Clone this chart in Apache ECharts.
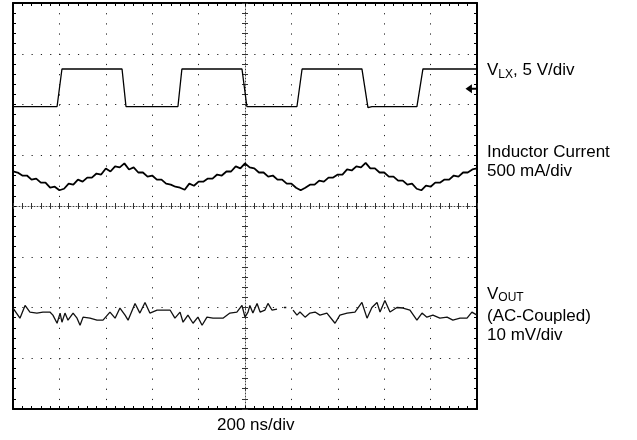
<!DOCTYPE html>
<html>
<head>
<meta charset="utf-8">
<script src="https://cdn.jsdelivr.net/npm/echarts@6/dist/echarts.min.js"></script>
<style>
html,body{margin:0;padding:0;background:#fff;}
#c{width:637px;height:440px;}
</style>
</head>
<body>
<div id="c"></div>
<script>
// Time in ns (10 div x 200 ns), trace values in screen divisions (0..8 from bottom)
const xTicksNs = { min: 0, max: 2000, step: 200 };
const yDivs = { min: 0, max: 8, step: 1 };

const vlxTime = [0,190,211,470,487,711,728,987,1008,1224,1246,1504,1530,1547,1741,1767,2000];
const vlxDiv  = [5.96,5.96,6.70,6.70,5.96,5.96,6.70,6.70,5.96,5.96,6.70,6.70,5.94,5.96,5.96,6.70,6.70];

const ilTime = [0,20,40,60,80,100,120,140,160,180,
  200,220,240,260,280,300,320,340,360,380,
  400,420,440,460,480,500,520,540,560,580,
  600,620,640,660,680,700,720,740,760,780,
  800,820,840,860,880,900,920,940,960,980,
  1000,1020,1040,1060,1080,1100,1120,1140,1160,1180,
  1200,1220,1240,1260,1280,1300,1320,1340,1360,1380,
  1400,1420,1440,1460,1480,1500,1520,1540,1560,1580,
  1600,1620,1640,1660,1680,1700,1720,1740,1760,1780,
  1800,1820,1840,1860,1880,1900,1920,1940,1960,1980,
  2000];
const ilDiv = [4.68,4.66,4.60,4.60,4.52,4.54,4.46,4.46,4.36,4.38,
  4.31,4.34,4.44,4.42,4.52,4.48,4.56,4.56,4.64,4.62,
  4.74,4.68,4.78,4.76,4.84,4.72,4.76,4.66,4.66,4.58,
  4.60,4.52,4.52,4.44,4.42,4.38,4.36,4.32,4.44,4.40,
  4.48,4.48,4.54,4.54,4.62,4.60,4.68,4.68,4.78,4.74,
  4.84,4.76,4.74,4.66,4.66,4.58,4.60,4.52,4.52,4.44,
  4.44,4.36,4.31,4.36,4.42,4.42,4.50,4.48,4.56,4.56,
  4.62,4.62,4.72,4.70,4.78,4.76,4.85,4.74,4.74,4.66,
  4.66,4.58,4.58,4.50,4.50,4.42,4.44,4.34,4.31,4.40,
  4.38,4.46,4.46,4.52,4.52,4.60,4.58,4.66,4.66,4.72,
  4.74];

const voTime = [0,30,52,73,103,129,159,172,190,203,
  211,224,237,259,276,289,302,332,362,388,
  418,440,461,483,496,526,547,569,590,621,
  647,677,698,720,733,754,776,797,815,836,
  862,905,935,965,987,1000,1013,1021,1034,1052,
  1065,1086,1099,1116,1138,1150,1168,1178,1190,1207,
  1224,1237,1259,1280,1302,1323,1353,1388,1409,1440,
  1474,1504,1526,1547,1569,1582,1603,1625,1655,1681,
  1711,1741,1763,1784,1810,1840,1871,1896,1927,1957,
  1978,2000];
const voDiv = [1.99,1.79,2.04,1.91,1.89,1.91,1.91,1.85,1.69,1.89,
  1.71,1.89,1.75,1.89,1.79,1.65,1.81,1.79,1.75,1.75,
  1.91,1.79,1.99,1.85,1.75,2.08,1.89,2.10,1.89,1.95,
  1.95,1.95,1.79,1.91,1.71,1.85,1.69,1.81,1.65,1.81,
  1.79,1.79,1.89,1.91,2.04,1.81,1.91,2.04,1.89,2.08,
  1.91,1.95,2.08,1.95,1.97,'-',2.00,2.00,'-',1.95,
  1.85,1.91,1.81,1.89,1.91,1.85,1.89,1.69,1.85,1.89,
  1.91,2.10,1.79,2.00,2.10,1.91,2.14,1.91,2.00,1.99,
  1.95,1.75,1.89,1.81,1.85,1.79,1.81,1.75,1.79,1.79,
  1.91,1.85];

const groundMarkerDiv = 6.31;

const labels = {
  vlx: ['V', 'LX', ', 5 V/div'],
  il: ['Inductor Current', '500 mA/div'],
  vo: ['V', 'OUT', '(AC-Coupled)', '10 mV/div'],
  time: '200 ns/div'
};

const pair = (t, v) => t.map((x, i) => [x, v[i]]);
const FONT = '"Liberation Sans", Arial, Helvetica, sans-serif';

function xAx(extra) {
  return Object.assign({
    type: 'value', min: xTicksNs.min, max: xTicksNs.max, interval: xTicksNs.step,
    axisLabel: { show: false },
    axisLine: { show: true, onZero: false, lineStyle: { color: '#000', width: 2 } },
    axisTick: { show: true, inside: true, length: 3, lineStyle: { color: '#000', width: 1 } },
    minorTick: { show: true, splitNumber: 5, length: 3, lineStyle: { color: '#000', width: 1 } },
    splitLine: { show: false }
  }, extra);
}
function yAx(extra) {
  return Object.assign({
    type: 'value', min: yDivs.min, max: yDivs.max, interval: yDivs.step,
    axisLabel: { show: false },
    axisLine: { show: true, onZero: false, lineStyle: { color: '#000', width: 2 } },
    axisTick: { show: true, inside: true, length: 3, lineStyle: { color: '#000', width: 1 } },
    minorTick: { show: true, splitNumber: 5, length: 3, lineStyle: { color: '#000', width: 1 } },
    splitLine: { show: false }
  }, extra);
}
const centerLine = { show: true, onZero: false, lineStyle: { color: '#444', width: 1, type: [1, 2] } };
const centerTick = (inside) => ({ show: true, inside: inside, length: 3, lineStyle: { color: '#333', width: 1 } });
const centerMinor = { show: true, splitNumber: 5, length: 3, lineStyle: { color: '#333', width: 1 } };

const chart = echarts.init(document.getElementById('c'), null, { renderer: 'canvas' });
chart.setOption({
  animation: false,
  backgroundColor: '#fff',
  grid: { left: 13, right: 160, top: 3, bottom: 31, show: false },
  xAxis: [
    xAx({ position: 'bottom', splitLine: { show: true, lineStyle: { color: '#222', width: 1, type: [1.2, 8.95] } } }),
    xAx({ position: 'top' }),
    xAx({ position: 'bottom', offset: -203, axisLine: centerLine, axisTick: centerTick(true), minorTick: centerMinor }),
    xAx({ position: 'bottom', offset: -203, axisLine: { show: false }, axisTick: centerTick(false), minorTick: centerMinor })
  ],
  yAxis: [
    yAx({ position: 'left', splitLine: { show: true, lineStyle: { color: '#222', width: 1, type: [1.2, 8.08] } } }),
    yAx({ position: 'right' }),
    yAx({ position: 'left', offset: -232, axisLine: centerLine, axisTick: centerTick(true), minorTick: centerMinor }),
    yAx({ position: 'left', offset: -232, axisLine: { show: false }, axisTick: centerTick(false), minorTick: centerMinor })
  ],
  series: [
    {
      name: 'VLX', type: 'line', xAxisIndex: 0, yAxisIndex: 0,
      data: pair(vlxTime, vlxDiv), showSymbol: false, connectNulls: false,
      lineStyle: { color: '#000', width: 1.3 },
      markPoint: {
        symbol: 'path://M0,5 L7,0 L7,4 L12,4 L12,6 L7,6 L7,10 Z',
        symbolSize: [11, 9], symbolOffset: [-6, 0], silent: true,
        itemStyle: { color: '#000' }, label: { show: false },
        data: [{ coord: [xTicksNs.max, groundMarkerDiv] }]
      }
    },
    {
      name: 'IL', type: 'line', xAxisIndex: 0, yAxisIndex: 0,
      data: pair(ilTime, ilDiv), showSymbol: false,
      lineStyle: { color: '#000', width: 1.8 }
    },
    {
      name: 'VOUT', type: 'line', xAxisIndex: 0, yAxisIndex: 0,
      data: pair(voTime, voDiv), showSymbol: false, connectNulls: false,
      lineStyle: { color: '#111', width: 1.3 }
    }
  ],
  graphic: [
    { type: 'text', left: 487, top: 62, style: {
        text: '{a|' + labels.vlx[0] + '}{s|' + labels.vlx[1] + '}{a|' + labels.vlx[2] + '}',
        rich: { a: { fontSize: 17, fontFamily: FONT, fill: '#000' }, s: { fontSize: 12, fontFamily: FONT, fill: '#000', padding: [9, 0, 0, 0] } }
    } },
    { type: 'text', left: 487, top: 143, style: {
        text: labels.il.join('\n'), font: '17px ' + FONT, fill: '#000', lineHeight: 19
    } },
    { type: 'text', left: 487, top: 286, style: {
        text: '{a|' + labels.vo[0] + '}{s|' + labels.vo[1] + '}',
        rich: { a: { fontSize: 17, fontFamily: FONT, fill: '#000' }, s: { fontSize: 12, fontFamily: FONT, fill: '#000', padding: [7, 0, 0, 0] } }
    } },
    { type: 'text', left: 487, top: 307, style: {
        text: labels.vo[2] + '\n' + labels.vo[3], font: '17px ' + FONT, fill: '#000', lineHeight: 19
    } },
    { type: 'text', left: 217, top: 417, style: {
        text: labels.time, font: '17px ' + FONT, fill: '#000'
    } }
  ]
});
</script>
</body>
</html>
